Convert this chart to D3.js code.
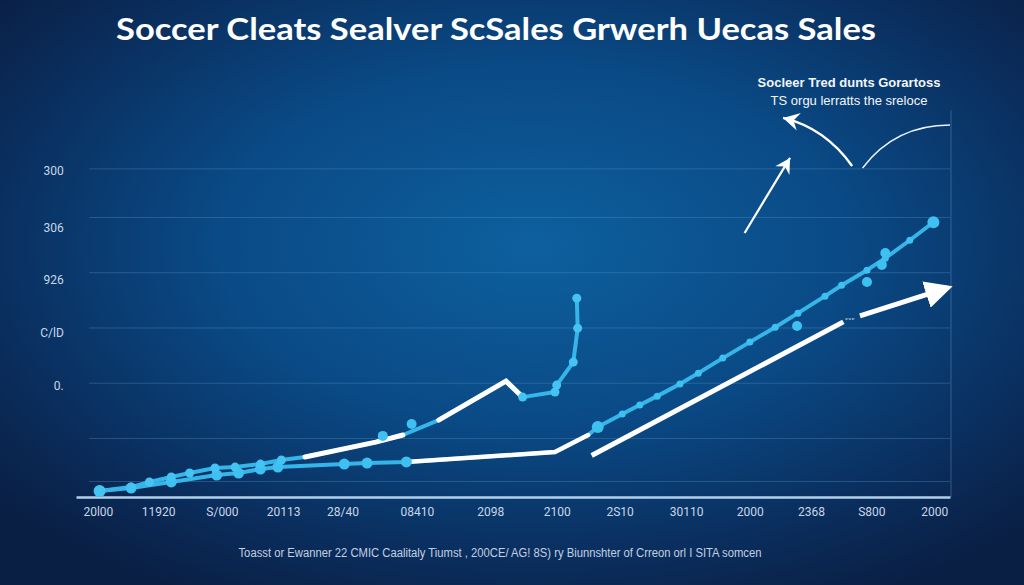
<!DOCTYPE html>
<html><head><meta charset="utf-8">
<script src="https://cdn.jsdelivr.net/npm/d3@7"></script>
<style>html,body{margin:0;padding:0;background:#0a1f42;}svg{display:block;}</style>
</head><body>
<svg id="c" width="1024" height="585"></svg>
<script>
// ---- data ----
const titleText = "Soccer Cleats Sealver ScSales Grwerh Uecas Sales";
const noteLines = ["Socleer Tred dunts Gorartoss", "TS orgu lerratts the sreloce"];
const footerText = "Toasst or Ewanner 22 CMIC Caalitaly Tiumst , 200CE/ AG! 8S) ry Biunnshter of Crreon orl I SITA somcen";
const xTickValues = [2.5, 9.4, 16.7, 23.7, 30.5, 39.0, 47.4, 55.0, 62.2, 69.8, 77.1, 84.1, 91.0, 98.2];
const xTickLabels = ["20l00","11920","S/000","20113","28/40","08410","2098","2100","2S10","30110","2000","2368","S800","2000"];
const yTickValues = [292, 241, 194, 146, 97.5];
const yTickLabels = ["300","306","926","C/lD","0."];
const gridValues = [11, 50, 100, 150, 200, 250, 294];
const seriesA = [[2.7,2.4],[6.3,6.0],[8.4,10.6],[10.9,15.1],[13.0,18.7],[15.9,23.2],[18.2,24.1],[21.1,26.8],[23.5,30.5],[26.2,33.2],[34.3,46.7],[37.4,53.1],[41.5,66.6],[49.2,101.9],[51.1,87.4],[54.8,92.0],[55.0,98.3],[56.9,119.1],[57.4,149.8],[57.3,177.0]];
const seriesB = [[2.7,2.4],[6.3,5.1],[10.9,10.6],[16.1,16.9],[18.6,18.7],[21.1,22.3],[23.1,24.1],[30.7,26.8],[33.3,27.7],[37.8,28.7],[54.8,37.7],[58.6,53.1],[59.7,60.3],[62.5,72.1],[64.5,80.2],[66.5,88.3],[69.1,99.2],[71.2,109.1],[74.0,122.7],[77.1,137.2],[80.0,150.7],[82.6,163.4],[85.7,178.8],[87.6,188.7],[90.5,202.3],[92.6,213.2],[95.4,229.4],[98.1,245.7]];
const extraPoints = [[35.1,52.3],[38.4,63.1],[82.5,151.8],[90.5,191.6],[92.2,207.1],[92.6,217.9]];
const trendArrow1 = [[59.0,34.6],[87.8,155.5]];
const trendArrow2 = [[89.7,161.0],[99.7,186.3]];
const noteArrowStraight = [[76.5,236.0],[81.7,303.9]];
const noteArrowCurve = [[88.8,296.6],[85.7,331.0],[80.9,340.1]];
const noteArc = [[90.0,294.8],[93.7,333.7],[100,333.7]];

// ---- setup ----
const svg = d3.select("#c");
const W = 1024, H = 585;
const x = d3.scaleLinear().domain([0,100]).range([76,950]);
const y = d3.scaleLinear().domain([-3,350]).range([497,107]);

const defs = svg.append("defs");
const rg = defs.append("radialGradient").attr("id","bg").attr("cx","52%").attr("cy","42%").attr("r","68%");
rg.append("stop").attr("offset","0%").attr("stop-color","#0d609e");
rg.append("stop").attr("offset","45%").attr("stop-color","#0a4a86");
rg.append("stop").attr("offset","80%").attr("stop-color","#0a2d5c");
rg.append("stop").attr("offset","100%").attr("stop-color","#0a1f44");
svg.append("rect").attr("width",W).attr("height",H).attr("fill","url(#bg)");

defs.append("marker").attr("id","headW").attr("viewBox","0 0 10 10").attr("refX",8).attr("refY",5)
  .attr("markerWidth",5.5).attr("markerHeight",5.5).attr("orient","auto").attr("markerUnits","strokeWidth")
  .append("path").attr("d","M0,0 L10,5 L0,10 Z").attr("fill","#ffffff");
defs.append("marker").attr("id","chev").attr("viewBox","0 0 12 12").attr("refX",10).attr("refY",6)
  .attr("markerWidth",9).attr("markerHeight",9).attr("orient","auto").attr("markerUnits","strokeWidth")
  .append("path").attr("d","M1,1 L10,6 L1,11 L4,6 Z").attr("fill","#ffffff");

// gridlines
svg.append("g").selectAll("line").data(gridValues).join("line")
  .attr("x1", x(1.5)).attr("x2", x(100)).attr("y1", d=>y(d)).attr("y2", d=>y(d))
  .attr("stroke","#5d97c8").attr("stroke-opacity",0.35).attr("stroke-width",1);

// right vertical line
svg.append("line").attr("x1",x(100)+1).attr("x2",x(100)+1).attr("y1",y(347)).attr("y2",y(-3))
  .attr("stroke","#6fa3d0").attr("stroke-opacity",0.4).attr("stroke-width",1);

// x axis
const xAxis = d3.axisBottom(x).tickValues(xTickValues).tickFormat((d,i)=>xTickLabels[i]).tickSize(0).tickPadding(10);
const gx = svg.append("g").attr("transform",`translate(0,${y(-3)})`).call(xAxis);
gx.select(".domain").attr("stroke","#b3d0ea").attr("stroke-width",2.5);
gx.selectAll("text").attr("fill","#c8d7e8").style("font-family","Roboto, 'Liberation Sans', sans-serif").style("font-size","12px");

// y labels
const yAxis = d3.axisLeft(y).tickValues(yTickValues).tickFormat((d,i)=>yTickLabels[i]).tickSize(0).tickPadding(0);
const gy = svg.append("g").attr("transform",`translate(${x(-1.4)},0)`).call(yAxis);
gy.select(".domain").remove();
gy.selectAll("text").attr("fill","#c8d7e8").style("font-family","Roboto, 'Liberation Sans', sans-serif").style("font-size","12px");

const line = d3.line().x(d=>x(d[0])).y(d=>y(d[1]));
const cyan = "#36b5e8";

// series B
svg.append("path").datum(seriesB).attr("d",line).attr("fill","none").attr("stroke",cyan).attr("stroke-width",4).attr("stroke-linejoin","round").attr("stroke-linecap","round");
svg.append("path").datum(seriesB.slice(9,12)).attr("d",line).attr("fill","none").attr("stroke","#ffffff").attr("stroke-width",4.5).attr("stroke-linecap","round");
// series A
svg.append("path").datum(seriesA).attr("d",line).attr("fill","none").attr("stroke",cyan).attr("stroke-width",4).attr("stroke-linejoin","round").attr("stroke-linecap","round");
svg.append("path").datum(seriesA.slice(9,12)).attr("d",line).attr("fill","none").attr("stroke","#ffffff").attr("stroke-width",5).attr("stroke-linecap","round");
svg.append("path").datum(seriesA.slice(12,15)).attr("d",line).attr("fill","none").attr("stroke","#ffffff").attr("stroke-width",5).attr("stroke-linecap","round");

// markers
const mA = seriesA.filter((d,i)=> i<9 || i>=14);
const mB = seriesB.filter((d,i)=> i!==10 && i!==11);
svg.append("g").selectAll("circle").data(mB).join("circle")
  .attr("cx",d=>x(d[0])).attr("cy",d=>y(d[1])).attr("r",(d,i)=> i<10 ? 5.5 : (i===10||i===mB.length-1 ? 6 : 3.5))
  .attr("fill","#3ec0f0");
svg.append("g").selectAll("circle").data(mA).join("circle")
  .attr("cx",d=>x(d[0])).attr("cy",d=>y(d[1])).attr("r",(d,i)=> i===0 ? 6 : 4.5)
  .attr("fill","#44c4f2");
svg.append("g").selectAll("circle").data(extraPoints).join("circle")
  .attr("cx",d=>x(d[0])).attr("cy",d=>y(d[1])).attr("r",5)
  .attr("fill","#3ec0f0");

// white trend arrow
svg.append("path").datum(trendArrow1).attr("d",line).attr("fill","none").attr("stroke","#fff").attr("stroke-width",5);
svg.append("path").datum(trendArrow2).attr("d",line).attr("fill","none").attr("stroke","#fff").attr("stroke-width",5).attr("marker-end","url(#headW)");
svg.append("text").attr("x",x(trendArrow1[1][0])+2).attr("y",y(trendArrow1[1][1])+1)
  .attr("fill","#fff").style("font-family","DejaVu Sans").style("font-size","8px").text("ᶜᵛᶜ");

// note arrows
svg.append("path").datum(noteArrowStraight).attr("d",line).attr("fill","none").attr("stroke","#fff").attr("stroke-width",2.2).attr("marker-end","url(#chev)");
svg.append("path").attr("d", `M${x(noteArrowCurve[0][0])},${y(noteArrowCurve[0][1])} Q${x(noteArrowCurve[1][0])},${y(noteArrowCurve[1][1])} ${x(noteArrowCurve[2][0])},${y(noteArrowCurve[2][1])}`)
  .attr("fill","none").attr("stroke","#fff").attr("stroke-width",2.4).attr("marker-end","url(#chev)");
svg.append("path").attr("d", `M${x(noteArc[0][0])},${y(noteArc[0][1])} Q${x(noteArc[1][0])},${y(noteArc[1][1])} ${x(noteArc[2][0])},${y(noteArc[2][1])}`)
  .attr("fill","none").attr("stroke","#e8f2ff").attr("stroke-width",1.5);

// texts
svg.append("text").attr("x",496).attr("y",40).attr("text-anchor","middle")
  .attr("textLength",760).attr("lengthAdjust","spacingAndGlyphs")
  .attr("fill","#ffffff").style("font-family","Lato, 'Noto Sans', sans-serif").style("font-weight","700").style("font-size","30px")
  .text(titleText);
svg.selectAll("text.note").data(noteLines).join("text").attr("class","note")
  .attr("x",849).attr("y",(d,i)=>87+i*18).attr("text-anchor","middle")
  .attr("fill","#f2f6fb").style("font-family","'Liberation Sans', Arial, sans-serif")
  .style("font-weight",(d,i)=> i===0?"600":"400").style("font-size","13px").text(d=>d);
svg.append("text").attr("x",500).attr("y",557).attr("text-anchor","middle")
  .attr("textLength",523).attr("lengthAdjust","spacingAndGlyphs")
  .attr("fill","#c2d0e2").style("font-family","'Liberation Sans', Arial, sans-serif").style("font-size","12px")
  .text(footerText);
</script>
</body></html>
